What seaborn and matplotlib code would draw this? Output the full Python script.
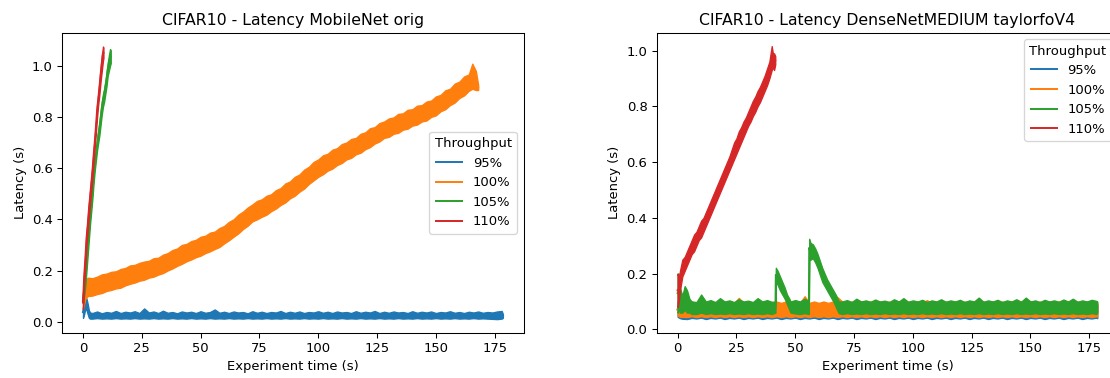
import matplotlib
matplotlib.use("Agg")
import matplotlib.pyplot as plt
import pandas as pd
import seaborn as sns

# ---------------- data ----------------
LEVELS = ["95%", "100%", "105%", "110%"]
COLORS = ["#1f77b4", "#ff7f0e", "#2ca02c", "#d62728"]

GRID_A = [4, 6, 8, 10, 12, 14, 16, 18, 20, 22, 24, 26, 28, 30, 32, 34, 36, 38, 40, 42,
          44, 46, 48, 50, 52, 54, 56, 58, 60, 62, 64, 66, 68, 70, 72, 74, 76, 78, 80, 82,
          84, 86, 88, 90, 92, 94, 96, 98, 100, 102, 104, 106, 108, 110, 112, 114, 116, 118,
          120, 122, 124, 126, 128, 130, 132, 134, 136, 138, 140, 142, 144, 146, 148, 150,
          152, 154, 156, 158, 160, 162, 164, 166, 168, 170, 172, 174, 176, 178]

# ---- left panel: MobileNet orig ----
L_blue_t = [0, 0.5, 1, 1.5, 2, 2.5, 3] + GRID_A + [178.5]
L_blue_lo = [0.015, 0.030, 0.050, 0.045, 0.030, 0.015, 0.012,
             .012, .014, .012, .013, .012, .014, .012, .013,
             .012, .014, .012, .013, .012, .014, .012, .013,
             .012, .014, .012, .013, .012, .014, .012, .013,
             .012, .014, .012, .013, .012, .014, .012, .013,
             .012, .014, .012, .013, .012, .014, .012, .013,
             .012, .014, .012, .013, .012, .014, .012, .013,
             .012, .014, .012, .013, .012, .014, .012, .013,
             .012, .014, .012, .013, .012, .014, .012, .013,
             .012, .014, .012, .013, .012, .014, .012, .013,
             .012, .014, .012, .013, .012, .014, .012, .013,
             .012, .014, .012, .013, .012, .011, .010, .012,
             0.015]
L_blue_hi = [0.060, 0.090, 0.098, 0.090, 0.070, 0.045, 0.036,
             .034, .040, .033, .038, .035, .042, .034, .039,
             .036, .041, .034, .052, .036, .040, .034, .043,
             .035, .038, .033, .040, .036, .039, .034, .041,
             .035, .038, .048, .035, .039, .034, .040, .036,
             .038, .033, .041, .035, .039, .034, .038, .036,
             .042, .034, .039, .035, .040, .034, .038, .036,
             .041, .035, .039, .034, .040, .036, .038, .034,
             .041, .035, .039, .036, .042, .034, .039, .035,
             .040, .036, .038, .034, .041, .035, .039, .036,
             .040, .034, .038, .036, .041, .035, .038, .034,
             .039, .036, .040, .035, .038, .036, .040, .042,
             0.030]

L_orange_t = [0, 1, 2] + GRID_A[:81] + [165.5, 167, 168]
L_orange_lo = [0.050, 0.090, 0.100,
               .102, .108, .112, .120, .124, .130, .133, .142,
               .148, .153, .160, .164, .172, .176, .184, .190,
               .200, .208, .218, .226, .236, .243, .252, .258,
               .268, .275, .284, .292, .306, .318, .332, .345,
               .362, .375, .392, .400, .410, .418, .432, .442,
               .456, .466, .482, .492, .508, .520, .538, .552,
               .566, .576, .590, .598, .612, .620, .634, .640,
               .654, .660, .674, .682, .696, .704, .718, .722,
               .734, .738, .750, .754, .766, .770, .782, .786,
               .800, .806, .822, .830, .846, .856, .874, .884,
               .902,
               0.910, 0.905, 0.905]
L_orange_hi = [0.110, 0.160, 0.172,
               .170, .176, .185, .188, .195, .197, .206, .210,
               .220, .222, .230, .235, .238, .248, .250, .262,
               .268, .280, .286, .300, .304, .315, .320, .332,
               .336, .348, .352, .366, .374, .390, .400, .418,
               .430, .446, .458, .472, .478, .492, .498, .514,
               .522, .540, .548, .566, .575, .594, .605, .624,
               .634, .650, .656, .672, .678, .694, .700, .714,
               .718, .734, .740, .756, .760, .776, .782, .794,
               .798, .812, .814, .828, .830, .844, .846, .860,
               .864, .880, .886, .904, .910, .930, .938, .958,
               .966,
               1.008, 0.980, 0.925]

L_green_t = [0, 0.5, 1, 1.5, 2, 2.5, 3, 3.5, 4, 4.5, 5, 5.5, 6, 6.5, 7, 7.5, 8, 8.5, 9,
             9.5, 10, 10.5, 11, 11.5, 11.8]
L_green_lo = [.07, .10, .14, .20, .26, .32, .38, .43, .48, .54, .59, .63, .67, .70, .73,
              .77, .81, .84, .86, .89, .92, .96, .98, 1.00, 1.01]
L_green_hi = [.10, .14, .19, .25, .31, .37, .42, .47, .52, .58, .63, .67, .71, .75, .78,
              .82, .86, .89, .91, .94, .97, 1.01, 1.04, 1.065, 1.06]

L_red_t = [0, 0.5, 1, 1.5, 2, 2.5, 3, 3.5, 4, 4.5, 5, 5.5, 6, 6.5, 7, 7.5, 8, 8.5, 8.7]
L_red_lo = [.05, .15, .22, .30, .35, .41, .46, .51, .56, .62, .68, .74, .80, .85, .89,
            .94, .98, 1.02, 1.03]
L_red_hi = [.10, .20, .27, .35, .40, .46, .51, .56, .61, .67, .72, .78, .85, .89, .94,
            .99, 1.04, 1.075, 1.07]

# ---- right panel: DenseNetMEDIUM taylorfoV4 ----
R_blue_t = [0, 1, 2] + GRID_A + [178.4]
R_blue_lo = [.045, .040, .038,
             .037, .041, .039, .042, .037, .041, .039, .042,
             .037, .041, .039, .042, .037, .041, .039, .042,
             .037, .041, .039, .042, .037, .041, .039, .042,
             .037, .041, .039, .042, .037, .041, .039, .042,
             .037, .041, .039, .042, .037, .041, .039, .042,
             .037, .041, .039, .042, .037, .041, .039, .042,
             .037, .041, .039, .042, .037, .041, .039, .042,
             .037, .041, .039, .042, .037, .041, .039, .042,
             .037, .041, .039, .042, .037, .041, .039, .042,
             .037, .041, .039, .042, .037, .041, .039, .042,
             .037, .041, .039, .042, .037, .041, .039, .042,
             .040]
R_blue_hi = [.100, .095, .090,
             .092, .097, .090, .096, .092, .098, .090, .095,
             .092, .097, .090, .096, .092, .098, .090, .095,
             .092, .097, .090, .096, .092, .098, .090, .095,
             .092, .097, .090, .096, .092, .098, .090, .095,
             .092, .097, .090, .096, .092, .098, .090, .095,
             .092, .097, .090, .096, .092, .098, .090, .095,
             .092, .097, .090, .096, .092, .098, .090, .095,
             .092, .097, .090, .096, .092, .098, .090, .095,
             .092, .097, .090, .096, .092, .098, .090, .095,
             .092, .097, .090, .096, .092, .098, .090, .095,
             .092, .097, .090, .096, .092, .098, .090, .095,
             .090]

R_orange_t = [0, 1, 2] + GRID_A + [178.4]
R_orange_lo = [.050, .045, .045,
               .044, .047, .044, .047, .044, .047, .044, .047,
               .044, .047, .044, .047, .044, .047, .044, .047,
               .044, .047, .044, .047, .044, .047, .044, .047,
               .044, .047, .044, .047, .044, .047, .044, .047,
               .044, .047, .044, .047, .044, .047, .044, .047,
               .044, .047, .044, .047, .044, .047, .044, .047,
               .044, .047, .044, .047, .044, .047, .044, .047,
               .044, .047, .044, .047, .044, .047, .044, .047,
               .044, .047, .044, .047, .044, .047, .044, .047,
               .044, .047, .044, .047, .044, .047, .044, .047,
               .044, .047, .044, .047, .044, .047, .044, .047,
               .046]
R_orange_hi = [.090, .085, .095,
               .095, .100, .095, .100, .095, .100, .095, .100,
               .095, .100, .095, .113, .095, .100, .095, .100,
               .095, .100, .095, .100, .095, .100, .095, .100,
               .095, .119, .095, .100, .095, .100, .095, .100,
               .115, .100, .095, .100, .095, .100, .095, .100,
               .095, .100, .095, .100, .095, .100, .095, .100,
               .095, .100, .095, .105, .095, .100, .095, .100,
               .095, .100, .095, .100, .095, .100, .095, .100,
               .095, .100, .095, .100, .095, .100, .095, .100,
               .095, .100, .095, .100, .095, .100, .095, .100,
               .095, .100, .095, .100, .095, .100, .095, .100,
               .095]

R_green_t = [0, 0.5, 1, 2, 3, 4, 5, 6,
             8, 10, 12, 14, 16, 18, 20, 22, 24, 26, 28, 30, 32, 34, 36, 38, 40,
             41.6, 41.75, 42.5, 43.5, 44.5, 45.5, 46.5, 47.5, 48,
             50, 52, 54, 55.8,
             55.95, 56.5, 57.5, 58.5, 59.5, 60.5, 61.5, 62.5, 63.5, 64.5, 65.5, 66.5, 67.5, 68.5,
             70, 72, 74, 76, 78, 80, 82, 84, 86, 88, 90, 92, 94, 96, 98, 100, 102, 104, 106,
             108, 110, 112, 114, 116, 118, 120, 122, 124, 126, 128, 130, 132, 134, 136, 138,
             140, 142, 144, 146, 148, 150, 152, 154, 156, 158, 160, 162, 164, 166, 168, 170,
             172, 174, 176, 178,
             178.4]
R_green_lo = [.06, .07, .06, .06, .07, .06, .06, .055,
              .055, .06, .055, .058, .055, .057, .055, .058, .055, .057, .055, .058, .055,
              .057, .055, .058, .055,
              .06, .17, .16, .14, .125, .11, .09, .07, .06,
              .057, .055, .058, .055,
              .26, .25, .255, .24, .22, .195, .17, .155, .14, .125, .11, .095, .075, .058,
              .055, .058, .055, .057, .055, .058, .055, .057, .055, .058, .055, .057,
              .055, .058, .055, .057, .055, .058, .055, .057, .055, .058, .055, .057,
              .055, .058, .055, .057, .055, .058, .055, .057, .055, .058, .055, .057,
              .055, .058, .055, .057, .055, .058, .055, .057, .055, .058, .055, .057,
              .055, .058, .055, .057, .055, .058, .055,
              .06]
R_green_hi = [.20, .20, .15, .12, .155, .14, .11, .10,
              .098, .125, .10, .105, .098, .112, .10, .104, .098, .108, .10, .103, .098,
              .112, .10, .105, .099,
              .10, .221, .21, .19, .17, .15, .125, .11, .10,
              .105, .10, .11, .10,
              .325, .31, .305, .29, .27, .245, .22, .20, .18, .165, .15, .135, .12, .10,
              .10, .105, .098, .11, .10, .104, .099, .107, .10, .103, .098, .108,
              .10, .112, .099, .104, .10, .106, .098, .104, .10, .108, .099, .104,
              .10, .106, .098, .104, .10, .114, .099, .104, .10, .106, .098, .104,
              .10, .108, .099, .114, .10, .104, .098, .106, .10, .104, .099, .107,
              .10, .11, .099, .104, .10, .106, .102,
              .10]

R_red_t = [0, 0.5, 1, 2, 3, 4, 5, 6, 7, 8, 9, 10, 11, 12, 13, 14, 15, 16, 17, 18, 19, 20,
           21, 22, 23, 24, 25, 26, 27, 28, 29, 30, 31, 32, 33, 34, 35, 36, 37, 38, 39, 40,
           40.5, 41, 41.5]
R_red_lo = [0.08, 0.10, 0.14, 0.19, 0.21, 0.23, 0.25, 0.27, 0.28, 0.30, 0.32, 0.33, 0.35,
            0.37, 0.39, 0.41, 0.43, 0.45, 0.47, 0.49, 0.51, 0.53, 0.55, 0.57, 0.59, 0.61,
            0.63, 0.65, 0.67, 0.69, 0.71, 0.73, 0.745, 0.765, 0.78, 0.80, 0.815, 0.835,
            0.855, 0.875, 0.90, 0.93, 0.94, 0.93, 0.95]
R_red_hi = [0.20, 0.18, 0.21, 0.25, 0.26, 0.28, 0.30, 0.32, 0.34, 0.35, 0.37, 0.39, 0.40,
            0.42, 0.44, 0.46, 0.48, 0.50, 0.52, 0.54, 0.56, 0.58, 0.60, 0.62, 0.645, 0.67,
            0.685, 0.71, 0.725, 0.745, 0.76, 0.78, 0.80, 0.82, 0.835, 0.855, 0.87, 0.89,
            0.91, 0.935, 0.96, 1.016, 0.99, 0.99, 0.98]

TITLES = ["CIFAR10 - Latency MobileNet orig", "CIFAR10 - Latency DenseNetMEDIUM taylorfoV4"]
XLABEL = "Experiment time (s)"
YLABEL = "Latency (s)"
LEGEND_TITLE = "Throughput"

LEFT = [(L_blue_t, L_blue_lo, L_blue_hi), (L_orange_t, L_orange_lo, L_orange_hi),
        (L_green_t, L_green_lo, L_green_hi), (L_red_t, L_red_lo, L_red_hi)]
RIGHT = [(R_blue_t, R_blue_lo, R_blue_hi), (R_orange_t, R_orange_lo, R_orange_hi),
         (R_green_t, R_green_lo, R_green_hi), (R_red_t, R_red_lo, R_red_hi)]

# ---------------- drawing ----------------
DPI = 94.5
fig = plt.figure(figsize=(1110 / DPI, 378 / DPI), dpi=DPI)
ax1 = fig.add_axes([0.0559, 0.1198, 0.4158, 0.7937])
ax2 = fig.add_axes([0.5916, 0.1198, 0.4158, 0.7937])


def span(v):
    return (v.min(), v.max())


def draw(ax, series, title, loc, ylim):
    for i, ((t, lo, hi), lab, col) in enumerate(zip(series, LEVELS, COLORS)):
        assert len(t) == len(lo) == len(hi), (lab, len(t), len(lo), len(hi))
        df = pd.DataFrame({"time": list(t) + list(t), "latency": list(lo) + list(hi)})
        z = 2 + i
        sns.lineplot(data=df, x="time", y="latency", ax=ax, color=col, label=lab,
                     errorbar=span, linewidth=1.5, zorder=z,
                     err_kws={"alpha": 1, "zorder": z, "linewidth": 1.0,
                              "edgecolor": col, "facecolor": col})
    ax.set_xlim(-8.9, 187.3)
    ax.set_ylim(*ylim)
    ax.set_title(title)
    ax.set_xlabel(XLABEL)
    ax.set_ylabel(YLABEL)
    ax.legend(title=LEGEND_TITLE, loc=loc)


draw(ax1, LEFT, TITLES[0], "center right", (-0.043, 1.129))
draw(ax2, RIGHT, TITLES[1], "upper right", (-0.012, 1.064))

fig.savefig("out.png", dpi=DPI)
